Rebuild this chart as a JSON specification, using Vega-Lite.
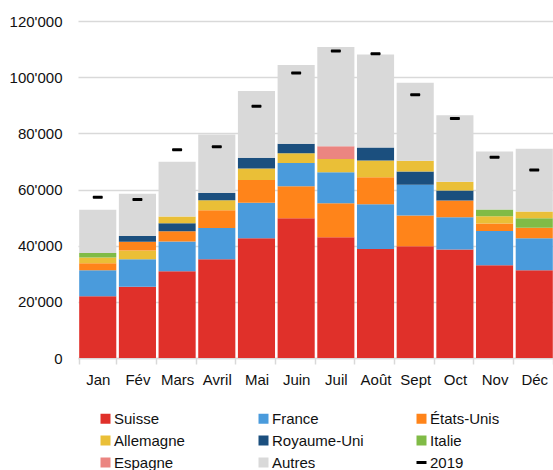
{
  "$schema": "https://vega.github.io/schema/vega-lite/v6.json",
  "width": 476,
  "height": 337,
  "autosize": "none",
  "padding": {"left": 78, "top": 21, "right": 0, "bottom": 112},
  "config": {
    "view": {"stroke": null},
    "font": "Liberation Sans",
    "axis": {"labelFont": "Liberation Sans", "labelFontSize": 15, "labelColor": "#111111", "title": null},
    "legend": {"labelFont": "Liberation Sans", "labelFontSize": 15, "labelColor": "#111111"}
  },
  "datasets": {
    "arrivees": [
      {"mois": "Jan", "pays": "Suisse", "valeur": 22000},
      {"mois": "Jan", "pays": "France", "valeur": 9250},
      {"mois": "Jan", "pays": "États-Unis", "valeur": 2500},
      {"mois": "Jan", "pays": "Allemagne", "valeur": 2000},
      {"mois": "Jan", "pays": "Italie", "valeur": 1650},
      {"mois": "Jan", "pays": "Autres", "valeur": 15350},
      {"mois": "Fév", "pays": "Suisse", "valeur": 25400},
      {"mois": "Fév", "pays": "France", "valeur": 9750},
      {"mois": "Fév", "pays": "Allemagne", "valeur": 3150},
      {"mois": "Fév", "pays": "États-Unis", "valeur": 3100},
      {"mois": "Fév", "pays": "Royaume-Uni", "valeur": 2000},
      {"mois": "Fév", "pays": "Autres", "valeur": 15050},
      {"mois": "Mars", "pays": "Suisse", "valeur": 30900},
      {"mois": "Mars", "pays": "France", "valeur": 10550},
      {"mois": "Mars", "pays": "États-Unis", "valeur": 3700},
      {"mois": "Mars", "pays": "Royaume-Uni", "valeur": 2850},
      {"mois": "Mars", "pays": "Allemagne", "valeur": 2350},
      {"mois": "Mars", "pays": "Autres", "valeur": 19500},
      {"mois": "Avril", "pays": "Suisse", "valeur": 35150},
      {"mois": "Avril", "pays": "France", "valeur": 11150},
      {"mois": "Avril", "pays": "États-Unis", "valeur": 6300},
      {"mois": "Avril", "pays": "Allemagne", "valeur": 3550},
      {"mois": "Avril", "pays": "Royaume-Uni", "valeur": 2600},
      {"mois": "Avril", "pays": "Autres", "valeur": 20800},
      {"mois": "Mai", "pays": "Suisse", "valeur": 42650},
      {"mois": "Mai", "pays": "France", "valeur": 12600},
      {"mois": "Mai", "pays": "États-Unis", "valeur": 8100},
      {"mois": "Mai", "pays": "Allemagne", "valeur": 4150},
      {"mois": "Mai", "pays": "Royaume-Uni", "valeur": 3800},
      {"mois": "Mai", "pays": "Autres", "valeur": 23750},
      {"mois": "Juin", "pays": "Suisse", "valeur": 49800},
      {"mois": "Juin", "pays": "États-Unis", "valeur": 11400},
      {"mois": "Juin", "pays": "France", "valeur": 8200},
      {"mois": "Juin", "pays": "Allemagne", "valeur": 3550},
      {"mois": "Juin", "pays": "Royaume-Uni", "valeur": 3350},
      {"mois": "Juin", "pays": "Autres", "valeur": 28000},
      {"mois": "Juil", "pays": "Suisse", "valeur": 43000},
      {"mois": "Juil", "pays": "États-Unis", "valeur": 12100},
      {"mois": "Juil", "pays": "France", "valeur": 11050},
      {"mois": "Juil", "pays": "Allemagne", "valeur": 4750},
      {"mois": "Juil", "pays": "Espagne", "valeur": 4500},
      {"mois": "Juil", "pays": "Autres", "valeur": 35300},
      {"mois": "Août", "pays": "Suisse", "valeur": 38850},
      {"mois": "Août", "pays": "France", "valeur": 15900},
      {"mois": "Août", "pays": "États-Unis", "valeur": 9600},
      {"mois": "Août", "pays": "Allemagne", "valeur": 5950},
      {"mois": "Août", "pays": "Royaume-Uni", "valeur": 4650},
      {"mois": "Août", "pays": "Autres", "valeur": 33150},
      {"mois": "Sept", "pays": "Suisse", "valeur": 39800},
      {"mois": "Sept", "pays": "États-Unis", "valeur": 10950},
      {"mois": "Sept", "pays": "France", "valeur": 10900},
      {"mois": "Sept", "pays": "Royaume-Uni", "valeur": 4750},
      {"mois": "Sept", "pays": "Allemagne", "valeur": 3800},
      {"mois": "Sept", "pays": "Autres", "valeur": 27800},
      {"mois": "Oct", "pays": "Suisse", "valeur": 38600},
      {"mois": "Oct", "pays": "France", "valeur": 11500},
      {"mois": "Oct", "pays": "États-Unis", "valeur": 5950},
      {"mois": "Oct", "pays": "Royaume-Uni", "valeur": 3550},
      {"mois": "Oct", "pays": "Allemagne", "valeur": 3200},
      {"mois": "Oct", "pays": "Autres", "valeur": 23650},
      {"mois": "Nov", "pays": "Suisse", "valeur": 33000},
      {"mois": "Nov", "pays": "France", "valeur": 12250},
      {"mois": "Nov", "pays": "États-Unis", "valeur": 2650},
      {"mois": "Nov", "pays": "Allemagne", "valeur": 2600},
      {"mois": "Nov", "pays": "Italie", "valeur": 2400},
      {"mois": "Nov", "pays": "Autres", "valeur": 20650},
      {"mois": "Déc", "pays": "Suisse", "valeur": 31250},
      {"mois": "Déc", "pays": "France", "valeur": 11400},
      {"mois": "Déc", "pays": "États-Unis", "valeur": 3700},
      {"mois": "Déc", "pays": "Italie", "valeur": 3450},
      {"mois": "Déc", "pays": "Allemagne", "valeur": 2350},
      {"mois": "Déc", "pays": "Autres", "valeur": 22350}
    ],
    "total2019": [
      {"mois": "Jan", "v2019": 57250},
      {"mois": "Fév", "v2019": 56450},
      {"mois": "Mars", "v2019": 74150},
      {"mois": "Avril", "v2019": 75200},
      {"mois": "Mai", "v2019": 89600},
      {"mois": "Juin", "v2019": 101450},
      {"mois": "Juil", "v2019": 109300},
      {"mois": "Août", "v2019": 108350},
      {"mois": "Sept", "v2019": 93750},
      {"mois": "Oct", "v2019": 85300},
      {"mois": "Nov", "v2019": 71500},
      {"mois": "Déc", "v2019": 66900}
    ]
  },
  "encoding": {
    "x": {
      "field": "mois",
      "type": "nominal",
      "sort": ["Jan", "Fév", "Mars", "Avril", "Mai", "Juin", "Juil", "Août", "Sept", "Oct", "Nov", "Déc"],
      "scale": {"paddingInner": 0.065, "paddingOuter": 0.03},
      "axis": {
        "labelAngle": 0,
        "tickBand": "extent",
        "domainColor": "#D9D9D9",
        "domainWidth": 1.5,
        "tickColor": "#D9D9D9",
        "tickWidth": 1.5,
        "tickSize": 6,
        "labelPadding": 8
      }
    }
  },
  "layer": [
    {
      "data": {"name": "arrivees"},
      "transform": [
        {"calculate": "datum.pays === 'Autres' ? -1 : datum.valeur", "as": "rang"}
      ],
      "mark": {"type": "bar"},
      "encoding": {
        "y": {
          "field": "valeur",
          "type": "quantitative",
          "stack": "zero",
          "scale": {"domain": [0, 120000], "nice": false},
          "axis": {
            "values": [0, 20000, 40000, 60000, 80000, 100000, 120000],
            "labelExpr": "replace(format(datum.value, ','), ',', \"'\")",
            "grid": true,
            "gridColor": "#D9D9D9",
            "gridWidth": 1.5,
            "domain": false,
            "ticks": false,
            "tickSize": 0,
            "labelPadding": 16
          }
        },
        "color": {
          "field": "pays",
          "type": "nominal",
          "scale": {
            "domain": ["Suisse", "France", "États-Unis", "Allemagne", "Royaume-Uni", "Italie", "Espagne", "Autres", "2019"],
            "range": ["#E0302A", "#4A9BDC", "#FF841A", "#EABF37", "#1B4F7E", "#80BB46", "#EB8581", "#D9D9D9", "#000000"]
          },
          "legend": {
            "title": null,
            "orient": "none",
            "direction": "horizontal",
            "legendX": 20,
            "legendY": 390,
            "columns": 3,
            "gridAlign": "all",
            "columnPadding": 50,
            "rowPadding": 6,
            "symbolSize": 100,
            "symbolType": "square",
            "symbolStrokeWidth": 0,
            "symbolOpacity": 1,
            "labelOffset": 1,
            "padding": 0,
            "encode": {
              "symbols": {
                "update": {
                  "shape": {"signal": "datum.value === '2019' ? 'M-1,-0.3H1V0.3H-1Z' : 'square'"},
                  "opacity": {"value": 1}
                }
              }
            }
          }
        },
        "order": {"field": "rang", "type": "quantitative", "sort": "descending"}
      }
    },
    {
      "data": {"name": "total2019"},
      "mark": {"type": "tick", "thickness": 3, "size": 10, "cornerRadius": 1, "opacity": 1},
      "encoding": {
        "y": {"field": "v2019", "type": "quantitative"},
        "color": {"datum": "2019"}
      }
    }
  ]
}
